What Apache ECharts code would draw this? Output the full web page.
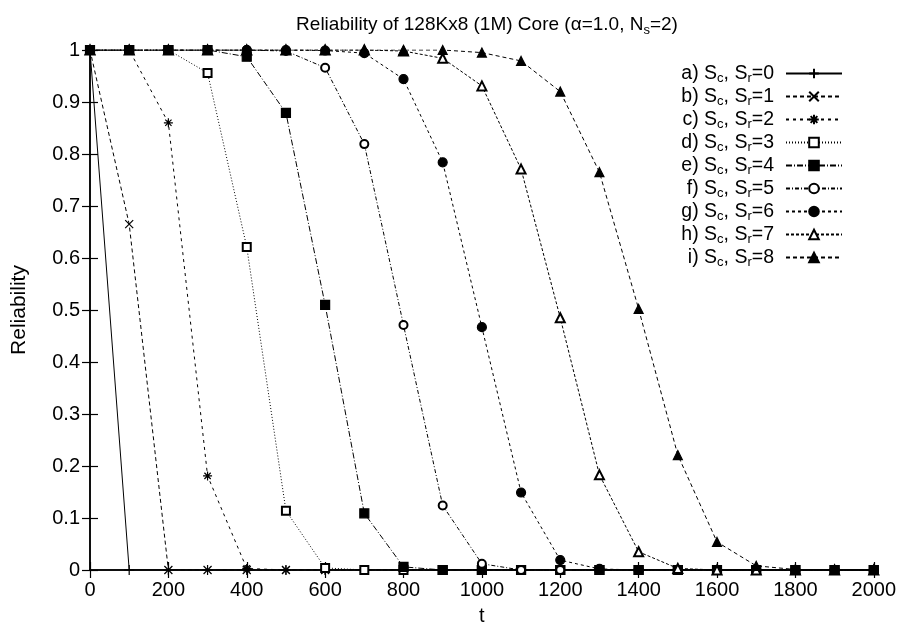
<!DOCTYPE html>
<html>
<head>
<meta charset="utf-8">
<script src="https://cdn.jsdelivr.net/npm/echarts@6/dist/echarts.min.js"></script>
<style>
  html, body { margin: 0; padding: 0; background: #fff; }
  #chart { width: 899px; height: 631px; }
</style>
</head>
<body>
<div id="chart"></div>
<script>
// t 轴取值（每 100 一个点）
const tValues = [0, 100, 200, 300, 400, 500, 600, 700, 800, 900, 1000,
                 1100, 1200, 1300, 1400, 1500, 1600, 1700, 1800, 1900, 2000];

// 各曲线的可靠度
const relSr0 = [1, 0, 0, 0, 0, 0, 0, 0, 0, 0, 0, 0, 0, 0, 0, 0, 0, 0, 0, 0, 0];
const relSr1 = [1, 0.665, 0, 0, 0, 0, 0, 0, 0, 0, 0, 0, 0, 0, 0, 0, 0, 0, 0, 0, 0];
const relSr2 = [1, 1, 0.86, 0.181, 0.003, 0, 0, 0, 0, 0, 0, 0, 0, 0, 0, 0, 0, 0, 0, 0, 0];
const relSr3 = [1, 1, 1, 0.956, 0.621, 0.114, 0.004, 0, 0, 0, 0, 0, 0, 0, 0, 0, 0, 0, 0, 0, 0];
const relSr4 = [1, 1, 1, 1, 0.987, 0.879, 0.51, 0.109, 0.006, 0, 0, 0, 0, 0, 0, 0, 0, 0, 0, 0, 0];
const relSr5 = [1, 1, 1, 1, 1, 0.998, 0.966, 0.819, 0.471, 0.124, 0.012, 0, 0, 0, 0, 0, 0, 0, 0, 0, 0];
const relSr6 = [1, 1, 1, 1, 1, 1, 0.999, 0.994, 0.944, 0.784, 0.467, 0.149, 0.019, 0.002, 0, 0, 0, 0, 0, 0, 0];
const relSr7 = [1, 1, 1, 1, 1, 1, 1, 1, 0.998, 0.984, 0.931, 0.771, 0.485, 0.183, 0.035, 0.003, 0, 0, 0, 0, 0];
const relSr8 = [1, 1, 1, 1, 1, 1, 1, 1, 1, 1, 0.995, 0.979, 0.92, 0.765, 0.502, 0.221, 0.054, 0.008, 0.001, 0, 0];

const seriesKeys = ['a', 'b', 'c', 'd', 'e', 'f', 'g', 'h', 'i'];
const seriesData = [relSr0, relSr1, relSr2, relSr3, relSr4, relSr5, relSr6, relSr7, relSr8];

// 标记和线型（仿 gnuplot）
const symbols = [
    'path://M0,5L10,5M5,0L5,10',
    'path://M0,0L10,10M10,0L0,10',
    'path://M0,5L10,5M5,0L5,10M1.5,1.5L8.5,8.5M8.5,1.5L1.5,8.5',
    'emptyRect', 'rect', 'emptyCircle', 'circle', 'emptyTriangle', 'triangle'
];
const symbolSizes = [10, 8, 9, 8, 9, 8, 9, 9, 9];
const dashTypes = ['solid', [4, 3], [3, 4], [1, 2], [6, 2, 1, 2], [4, 2, 1, 2], [3, 3], [3, 2], [4, 3]];

const FONT = 'Liberation Sans';
const chart = echarts.init(document.getElementById('chart'));

const series = seriesData.map((vals, k) => ({
    name: seriesKeys[k],
    type: 'line',
    data: tValues.map((t, j) => [t, vals[j]]),
    symbol: symbols[k],
    symbolSize: symbolSizes[k],
    showAllSymbol: true,
    animation: false,
    lineStyle: { color: '#000', width: 1, type: dashTypes[k] },
    itemStyle: { color: '#000', borderColor: '#000', borderWidth: 1.2 },
    z: 2 + k
}));

const axisText = { fontFamily: FONT, fontSize: 20, color: '#000' };

const option = {
    backgroundColor: '#fff',
    animation: false,
    title: {
        text: 'Reliability of 128Kx8 (1M) Core (α=1.0, N{sub|s}=2)',
        left: 482,
        top: 7,
        textAlign: 'center',
        textStyle: {
            fontFamily: FONT, fontSize: 19, fontWeight: 'normal', color: '#000',
            rich: { sub: { fontFamily: FONT, fontSize: 13, verticalAlign: 'bottom', lineHeight: 25 } }
        }
    },
    legend: {
        orient: 'vertical',
        align: 'right',
        right: 51,
        top: 57,
        itemWidth: 56,
        itemHeight: 12,
        itemGap: 0,
        data: seriesKeys,
        formatter: name => {
            const k = seriesKeys.indexOf(name);
            return name + ') S{sub|c}, S{sub|r}=' + k;
        },
        textStyle: {
            fontFamily: FONT, fontSize: 19.5, color: '#000', lineHeight: 20,
            padding: [0, 7, 0, 0],
            rich: { sub: { fontFamily: FONT, fontSize: 13, verticalAlign: 'bottom', lineHeight: 23 } }
        }
    },
    grid: { left: 90, right: 24, top: 50, bottom: 61 },
    xAxis: [{
        type: 'value', min: 0, max: 2000, interval: 200,
        name: 't', nameLocation: 'middle', nameGap: 36,
        nameTextStyle: axisText,
        axisLine: { show: true, lineStyle: { color: '#000', width: 1.5 } },
        axisTick: { show: true, inside: true, length: 8, lineStyle: { color: '#000', width: 1.2 } },
        axisLabel: Object.assign({ margin: 10, formatter: v => String(v) }, axisText),
        splitLine: { show: false }
    }, {
        type: 'value', min: 0, max: 2000, interval: 200, position: 'top',
        axisLine: { show: true, lineStyle: { color: '#000', width: 1.5 } },
        axisTick: { show: true, inside: true, length: 8, lineStyle: { color: '#000', width: 1.2 } },
        axisLabel: { show: false },
        splitLine: { show: false }
    }],
    yAxis: [{
        type: 'value', min: 0, max: 1, interval: 0.1,
        name: 'Reliability', nameLocation: 'middle', nameGap: 60,
        nameTextStyle: { fontFamily: FONT, fontSize: 21, color: '#000' },
        axisLine: { show: true, lineStyle: { color: '#000', width: 1.5 } },
        axisTick: { show: true, inside: true, length: 8, lineStyle: { color: '#000', width: 1.2 } },
        axisLabel: Object.assign({ margin: 10 }, axisText),
        splitLine: { show: false }
    }, {
        type: 'value', min: 0, max: 1, interval: 0.1, position: 'right',
        axisLine: { show: true, lineStyle: { color: '#000', width: 1.5 } },
        axisTick: { show: true, inside: true, length: 8, lineStyle: { color: '#000', width: 1.2 } },
        axisLabel: { show: false },
        splitLine: { show: false }
    }],
    series: series
};

chart.setOption(option);
</script>
</body>
</html>
